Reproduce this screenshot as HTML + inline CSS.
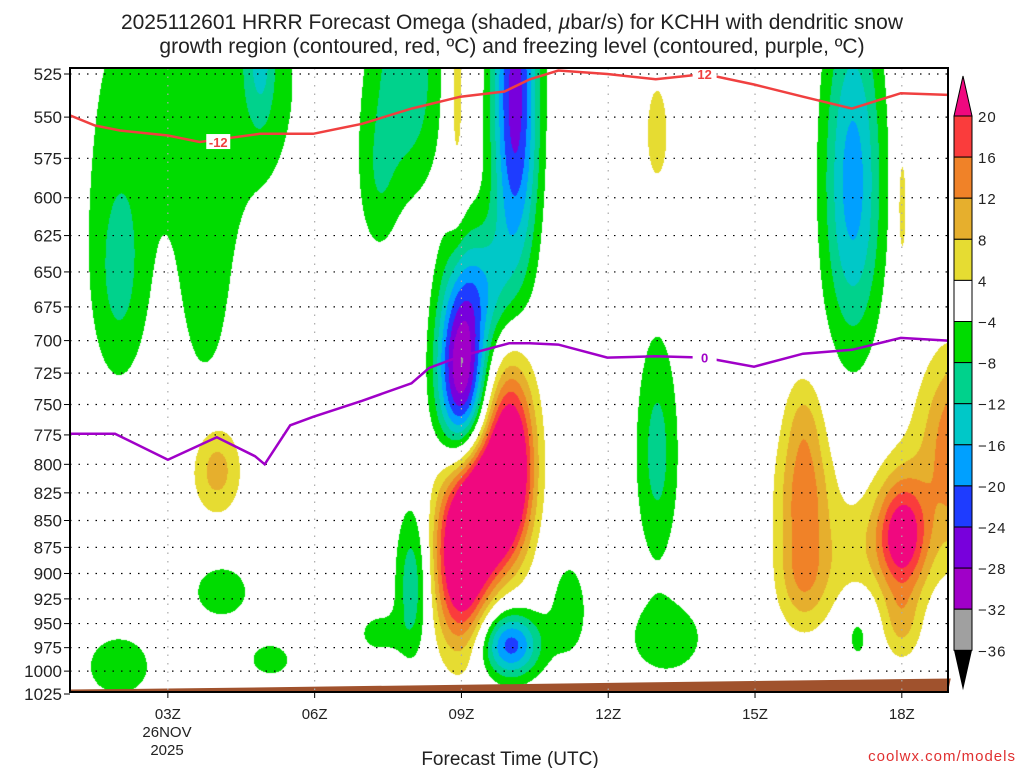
<!DOCTYPE html>
<html><head><meta charset="utf-8"><style>
body{margin:0;background:#fff;width:1024px;height:768px;overflow:hidden;font-family:"Liberation Sans","DejaVu Sans",sans-serif}
#wrap{position:relative;width:1024px;height:768px}
canvas{position:absolute;left:70px;top:68px}
svg{position:absolute;left:0;top:0}
</style></head><body><div id="wrap">
<canvas id="cv" width="878" height="624"></canvas>
<svg id="sv" width="1024" height="768"></svg>
</div>
<script>
// ---- data ----
const pressureTicks=[525,550,575,600,625,650,675,700,725,750,775,800,825,850,875,900,925,950,975,1000,1025];
const hourTicks=[3,6,9,12,15,18];
const hourTickLabels=["03Z","06Z","09Z","12Z","15Z","18Z"];
const levelValues=[20,16,12,8,4,-4,-8,-12,-16,-20,-24,-28,-32,-36];
const levelColors=["#f0087f","#fa3c3c","#f08228","#e6af2d","#e6dc32","#ffffff","#00dc00","#00d28c","#00c8c8","#00a0ff","#1e3cff","#7800dc","#a000c8","#a0a0a0","#000000"];
// omega cells: center hour, center pressure, amplitude (µbar/s), width hours, width hPa
const cellHour=[2.0,3.7,3.76,4.9,7.9,7.3,10.1,9.0,9.5,10.0,11.2,8.0,7.3,4.1,5.1,2.0,13.0,13.2,17.0,17.1,19.1,
 9.0,10.0,9.5,4.0,16.0,16.0,16.0,18.0,19.3,17.0,8.9,13.0,18.0,18.0,19.2];
const cellPres=[655,530,660,515,525,590,540,725,660,972,935,910,960,918,988,995,790,965,590,960,600,
 880,800,840,805,820,900,760,865,810,880,535,560,605,950,760];
const cellAmp=[-8.5,-6.5,-5.5,-9,-11,-5.5,-26,-33,-10,-22,-6,-11,-5.5,-6,-5.5,-6,-9.5,-6.5,-18,-5.5,-6,
 30,30,25,10,12.5,12.5,6,24,13,5,6.5,6,6,8,7];
const cellWh=[0.6,2.6,0.55,0.3,0.7,0.4,0.47,0.5,0.55,0.6,0.45,0.35,0.5,0.75,0.6,0.9,0.45,0.9,0.6,0.35,0.2,
 0.55,0.5,0.5,0.5,0.55,0.55,0.4,0.55,0.9,0.6,0.2,0.3,0.15,0.4,0.8];
const cellWp=[80,110,90,40,70,50,110,75,45,35,60,75,25,35,25,45,100,45,110,40,60,
 90,80,60,40,55,55,40,55,80,60,80,40,60,40,60];
const redHours=[1,1.51,2.02,3,3.65,4.88,5.97,6.97,7.98,8.98,9.88,10.4,10.98,11.98,12.97,13.97,14.98,15.98,16.98,17.98,18.94];
const redPres=[549,555,558,561,565,560,560,554,545,538,535,528,523,525,528,525,531,538,545,536,537];
const purHours=[1,1.92,3,4,4.78,4.98,5.5,5.97,6.97,7.98,8.34,8.98,9.98,10.4,10.98,11.98,12.97,13.97,14.98,15.98,16.98,17.98,18.94];
const purPres=[774,774,796,777,793,800,767,760,747,733,721,712,702,702,703,713,712,713,720,710,707,698,700];
const groundHours=[1,3,19];
const groundPres=[1020,1019,1008];
// ---- axes ----
const X0=70,X1=948,Y0=68,Y1=692;
const xOf=h=>70+(h-1)*48.93;
const LR=Math.log(1025/525);
const yOf=p=>74+620*Math.log(p/525)/LR;
const hOf=x=>(x-70)/48.93+1;
const pOf=y=>525*Math.exp((y-74)/620*LR);
// ---- shading ----
const cv=document.getElementById('cv'),ctx=cv.getContext('2d');
const W=cv.width,H=cv.height,img=ctx.createImageData(W,H);
const rgb=levelColors.map(c=>[parseInt(c.substr(1,2),16),parseInt(c.substr(3,2),16),parseInt(c.substr(5,2),16)]);
const hs=[];for(let i=0;i<W;i++)hs.push(hOf(X0+i+0.5));
for(let j=0;j<H;j++){const p=pOf(Y0+j+0.5);
 for(let i=0;i<W;i++){const h=hs[i];let v=0;
  for(let k=0;k<cellHour.length;k++){const dx=(h-cellHour[k])/cellWh[k],dy=(p-cellPres[k])/cellWp[k];const r=dx*dx+dy*dy;if(r<12)v+=cellAmp[k]*Math.exp(-r);}
  let idx=levelValues.length;for(let l=0;l<levelValues.length;l++){if(v>=levelValues[l]){idx=l;break;}}
  const c=rgb[idx],o=(j*W+i)*4;img.data[o]=c[0];img.data[o+1]=c[1];img.data[o+2]=c[2];img.data[o+3]=255;}}
ctx.putImageData(img,0,0);
// ---- svg ----
const NS='http://www.w3.org/2000/svg',sv=document.getElementById('sv');
function mk(t,a,parent){const e=document.createElementNS(NS,t);for(const k in a)e.setAttribute(k,a[k]);(parent||sv).appendChild(e);return e;}
// ground
let gp=groundHours.map((h,i)=>xOf(h)+','+yOf(groundPres[i])).join(' ')+' '+X1+','+Y1+' '+X0+','+Y1;
let g=mk('polygon',{points:gp,fill:'#a0522d'});


// grid
pressureTicks.forEach((p,i)=>{const y=yOf(p);
 if(i<pressureTicks.length-1){let l=mk('line',{x1:X0,x2:X1,y1:y,y2:y,stroke:'#000','stroke-width':1.2,'stroke-dasharray':'1.5 7'});
 
 }
 let tk=mk('line',{x1:X0-6,x2:X0,y1:y,y2:y,stroke:'#000'});
 
 
 let t=mk('text',{x:X0-8,y:y+6,'text-anchor':'end','font-size':17,fill:'#222'});t.textContent=p;
 
 });
hourTicks.forEach((h,i)=>{const x=xOf(h);
 let l=mk('line',{x1:x,x2:x,y1:Y0,y2:Y1,stroke:'#aaa','stroke-width':1.2,'stroke-dasharray':'1.5 7'});
 
 
 let tk=mk('line',{x1:x,x2:x,y1:Y1,y2:Y1+6,stroke:'#000'});
 
 
 let t=mk('text',{x:x,y:719,'text-anchor':'middle','font-size':15,fill:'#222'});t.textContent=hourTickLabels[i];
 
 });
// lines
function line(hh,pp,col,name){let d=hh.map((h,i)=>(i?'L':'M')+xOf(h).toFixed(1)+','+yOf(pp[i]).toFixed(1)).join('');
 let e=mk('path',{d:d,fill:'none',stroke:col,'stroke-width':2.5});
 
 }
line(redHours,redPres,'#f04040','dgz-minus12-contour');
line(purHours,purPres,'#a000c8','freezing-level-contour');
function clab(x,y,txt,col,name){mk('rect',{x:x-12,y:y-8,width:24,height:15,fill:'#fff'});
 let t=mk('text',{x:x,y:y+5,'text-anchor':'middle','font-size':13,'font-weight':'bold',fill:col});t.textContent=txt;
 
 }
clab(xOf(4.03),yOf(565),'-12','#f04040','contour-label-minus12');
clab(xOf(13.97),yOf(525),'12','#f04040','contour-label-12');
clab(xOf(13.97),yOf(713),'0','#a000c8','contour-label-0');
// frame
let fr=mk('rect',{x:X0,y:Y0,width:X1-X0,height:Y1-Y0,fill:'none',stroke:'#000','stroke-width':2});


// colorbar
const cbx=954,cbw=18,cbTop=116,step=41.1;
let tri=mk('polygon',{points:`${cbx},${cbTop} ${cbx+cbw},${cbTop} ${cbx+cbw/2},76`,fill:levelColors[0],stroke:'#000'});


for(let i=1;i<levelColors.length-1;i++){let r=mk('rect',{x:cbx,y:cbTop+(i-1)*step,width:cbw,height:step,fill:levelColors[i],stroke:'#000','stroke-width':1});
 
 }
const cbBot=cbTop+(levelColors.length-2)*step;
let tri2=mk('polygon',{points:`${cbx},${cbBot} ${cbx+cbw},${cbBot} ${cbx+cbw/2},${cbBot+40}`,fill:'#000'});


levelValues.forEach((v,i)=>{let t=mk('text',{x:978,y:cbTop+i*step+6,'font-size':15,fill:'#222','letter-spacing':'1'});t.textContent=v<0?'\u2212'+(-v):v;
 
 });
</script>
<svg width="1024" height="768" style="position:absolute;left:0;top:0;pointer-events:none">
<text x="512" y="29" text-anchor="middle" font-size="21" fill="#222" font-family="Liberation Sans, sans-serif">2025112601 HRRR Forecast Omega (shaded, <tspan font-style="italic">µ</tspan>bar/s) for KCHH with dendritic snow</text>
<text x="512" y="53" text-anchor="middle" font-size="21" fill="#222" font-family="Liberation Sans, sans-serif">growth region (contoured, red, ºC) and freezing level (contoured, purple, ºC)</text>
<text x="167" y="737" text-anchor="middle" font-size="15" fill="#222" font-family="Liberation Sans, sans-serif">26NOV</text>
<text x="167" y="755" text-anchor="middle" font-size="15" fill="#222" font-family="Liberation Sans, sans-serif">2025</text>
<text x="510" y="765" text-anchor="middle" font-size="19" fill="#222" font-family="Liberation Sans, sans-serif">Forecast Time (UTC)</text>
<text x="1016" y="761" text-anchor="end" font-size="15" fill="#e03030" letter-spacing="1" font-family="Liberation Sans, sans-serif">coolwx.com/models</text>
</svg>
</body></html>
